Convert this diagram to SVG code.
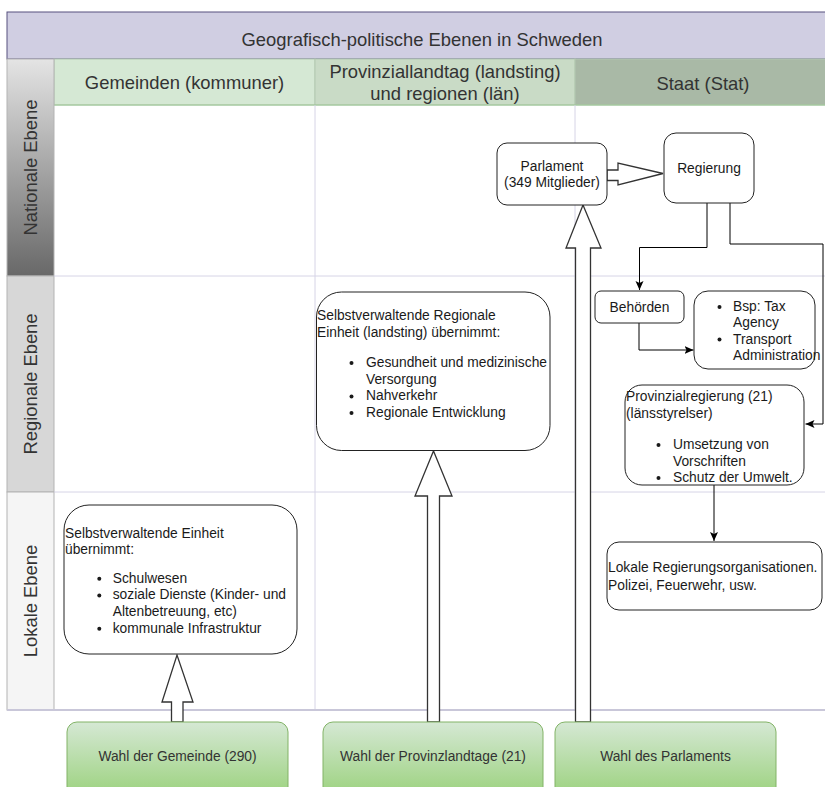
<svg xmlns="http://www.w3.org/2000/svg" width="825" height="787" viewBox="0 0 825 787">
<style>
  text { font-family: "Liberation Sans", Arial, sans-serif; fill: #1a1a1a; }
  .big { font-size: 18.4px; fill: #333333; }
  .t { font-size: 13.8px; }
  .mid { text-anchor: middle; }
  .wahl { font-size: 13.8px; fill: #333333; text-anchor: middle; }
  .node { fill: #ffffff; stroke: #222222; stroke-width: 1; }
  .block { fill: #ffffff; stroke: #333333; stroke-width: 1.3; stroke-linejoin: miter; }
  .conn { fill: none; stroke: #000000; stroke-width: 1; }
  .grid { stroke: #d6d4e6; stroke-width: 1; fill: none; }
  .wbox { fill: url(#gWahl); stroke: #82b366; stroke-width: 1; }
  .dot { fill: #1a1a1a; }
</style>
<defs>
  <linearGradient id="gNat" x1="0" y1="0" x2="0" y2="1">
    <stop offset="0" stop-color="#e4e4e4"/>
    <stop offset="1" stop-color="#686868"/>
  </linearGradient>
  <linearGradient id="gWahl" x1="0" y1="0" x2="0" y2="1">
    <stop offset="0" stop-color="#d5e8d4"/>
    <stop offset="1" stop-color="#97d077"/>
  </linearGradient>
  <marker id="arr" markerUnits="userSpaceOnUse" markerWidth="10" markerHeight="10" refX="9" refY="4" orient="auto">
    <path d="M0,0 L9,4 L0,8 L2,4 z" fill="#000000"/>
  </marker>
</defs>

<!-- lanes / background structure -->
<g id="lanes">
  <rect x="7" y="12" width="830" height="47" fill="#d0cee2" stroke="#56517e" stroke-width="1"/>
  <text class="big mid" x="422" y="46">Geografisch-politische Ebenen in Schweden</text>

  <rect x="54" y="59" width="261" height="46" fill="#d5e8d4" stroke="#b4c9b1" stroke-width="1"/>
  <rect x="315" y="59" width="260" height="46" fill="#c9dbc6" stroke="#b4c9b1" stroke-width="1"/>
  <rect x="575" y="59" width="262" height="46" fill="#a9b9a6" stroke="#b4c9b1" stroke-width="1"/>
  <line x1="54" y1="105" x2="837" y2="105" stroke="#9cc795" stroke-width="1"/>
  <text class="big mid" x="184.5" y="89">Gemeinden (kommuner)</text>
  <text class="big mid" x="445" y="78">Provinziallandtag (landsting)</text>
  <text class="big mid" x="445" y="100">und regionen (län)</text>
  <text class="big mid" x="703" y="90">Staat (Stat)</text>

  <rect x="7" y="59" width="47" height="217" fill="url(#gNat)" stroke="#b3b3b3" stroke-width="1"/>
  <rect x="7" y="276" width="47" height="216" fill="#d7d7d7" stroke="#b3b3b3" stroke-width="1"/>
  <rect x="7" y="492" width="47" height="218" fill="#f5f5f5" stroke="#b3b3b3" stroke-width="1"/>
  <text class="big mid" transform="translate(37,167.5) rotate(-90)">Nationale Ebene</text>
  <text class="big mid" transform="translate(37,384) rotate(-90)">Regionale Ebene</text>
  <text class="big mid" transform="translate(37,601) rotate(-90)">Lokale Ebene</text>

  <line class="grid" x1="54" y1="276" x2="837" y2="276"/>
  <line class="grid" x1="54" y1="492" x2="837" y2="492"/>
  <line class="grid" x1="315" y1="105" x2="315" y2="710"/>
  <line class="grid" x1="575" y1="105" x2="575" y2="710"/>
  <line x1="7" y1="710" x2="837" y2="710" stroke="#c9c7d9" stroke-width="2"/>
</g>

<!-- connectors -->
<g id="connectors">
  <polygon class="block" points="607,170 618,170 618,163 663,173.5 618,185 618,180.5 607,180.5"/>
  <polygon class="block" points="575.5,722 575.5,248 566,248 583,205 601,248 590.5,248 590.5,722"/>
  <polygon class="block" points="427.5,722 427.5,496 415,496 433.5,451 452,496 439.5,496 439.5,722"/>
  <polygon class="block" points="171.5,722 171.5,702 162,702 177,655 193,702 183,702 183,722"/>
  <polyline class="conn" points="707,203 707,247.5 639.5,247.5 639.5,290" marker-end="url(#arr)"/>
  <polyline class="conn" points="730,203 730,244 823,244 823,424 805.5,424" marker-end="url(#arr)"/>
  <polyline class="conn" points="639,323 639,350 693.5,350" marker-end="url(#arr)"/>
  <line class="conn" x1="714" y1="485" x2="714" y2="541" marker-end="url(#arr)"/>
</g>

<g id="parlament">
  <rect class="node" x="497" y="143" width="110" height="62" rx="10"/>
  <text class="t mid" x="552" y="170.5">Parlament</text>
  <text class="t mid" x="552" y="187">(349 Mitglieder)</text>
</g>

<g id="regierung">
  <rect class="node" x="664" y="133" width="90" height="70" rx="12"/>
  <text class="t mid" x="709" y="172.5">Regierung</text>
</g>

<g id="behoerden">
  <rect class="node" x="595" y="291" width="89" height="32" rx="6"/>
  <text class="t mid" x="639.5" y="311.5">Behörden</text>
</g>

<g id="beispiele">
  <rect class="node" x="694" y="291" width="121" height="78" rx="14"/>
  <circle class="dot" cx="719.5" cy="307" r="2"/>
  <text class="t" x="733" y="311">Bsp: Tax</text>
  <text class="t" x="733" y="327">Agency</text>
  <circle class="dot" cx="719.5" cy="339.5" r="2"/>
  <text class="t" x="733" y="343.5">Transport</text>
  <text class="t" x="733" y="359.5">Administration</text>
</g>

<g id="provinzialregierung">
  <rect class="node" x="625" y="385" width="179" height="100" rx="17"/>
  <text class="t" x="626" y="401">Provinzialregierung (21)</text>
  <text class="t" x="626" y="417.5">(länsstyrelser)</text>
  <circle class="dot" cx="658.5" cy="445" r="2"/>
  <text class="t" x="673" y="449">Umsetzung von</text>
  <text class="t" x="673" y="465.5">Vorschriften</text>
  <circle class="dot" cx="658.5" cy="478" r="2"/>
  <text class="t" x="673" y="482">Schutz der Umwelt.</text>
</g>

<g id="lokale-organisationen">
  <rect class="node" x="607" y="542" width="215" height="68" rx="12"/>
  <text class="t" x="608" y="571.5">Lokale Regierungsorganisationen.</text>
  <text class="t" x="608" y="589.5">Polizei, Feuerwehr, usw.</text>
</g>

<g id="landsting">
  <rect class="node" x="316.5" y="292" width="233.5" height="158.5" rx="25"/>
  <text class="t" x="317" y="320">Selbstverwaltende Regionale</text>
  <text class="t" x="317" y="336.7">Einheit (landsting) übernimmt:</text>
  <circle class="dot" cx="351.5" cy="363" r="2"/>
  <text class="t" x="366" y="367">Gesundheit und medizinische</text>
  <text class="t" x="366" y="383.7">Versorgung</text>
  <circle class="dot" cx="351.5" cy="396.4" r="2"/>
  <text class="t" x="366" y="400.4">Nahverkehr</text>
  <circle class="dot" cx="351.5" cy="413" r="2"/>
  <text class="t" x="366" y="417">Regionale Entwicklung</text>
</g>

<g id="gemeinde">
  <rect class="node" x="64" y="505" width="233" height="149" rx="25"/>
  <text class="t" x="65" y="537.7">Selbstverwaltende Einheit</text>
  <text class="t" x="65" y="554.4">übernimmt:</text>
  <circle class="dot" cx="99.3" cy="578.7" r="2"/>
  <text class="t" x="112.7" y="582.7">Schulwesen</text>
  <circle class="dot" cx="99.3" cy="595.4" r="2"/>
  <text class="t" x="112.7" y="599.4">soziale Dienste (Kinder- und</text>
  <text class="t" x="112.7" y="616">Altenbetreuung, etc)</text>
  <circle class="dot" cx="99.3" cy="628.7" r="2"/>
  <text class="t" x="112.7" y="632.7">kommunale Infrastruktur</text>
</g>

<g id="wahl-gemeinde">
  <rect class="wbox" x="67" y="722" width="221" height="80" rx="10"/>
  <text class="wahl" x="177.5" y="761">Wahl der Gemeinde (290)</text>
</g>

<g id="wahl-provinzlandtage">
  <rect class="wbox" x="323" y="722" width="220" height="80" rx="10"/>
  <text class="wahl" x="433" y="761">Wahl der Provinzlandtage (21)</text>
</g>

<g id="wahl-parlament">
  <rect class="wbox" x="555" y="722" width="221" height="80" rx="10"/>
  <text class="wahl" x="665.5" y="761">Wahl des Parlaments</text>
</g>
</svg>
